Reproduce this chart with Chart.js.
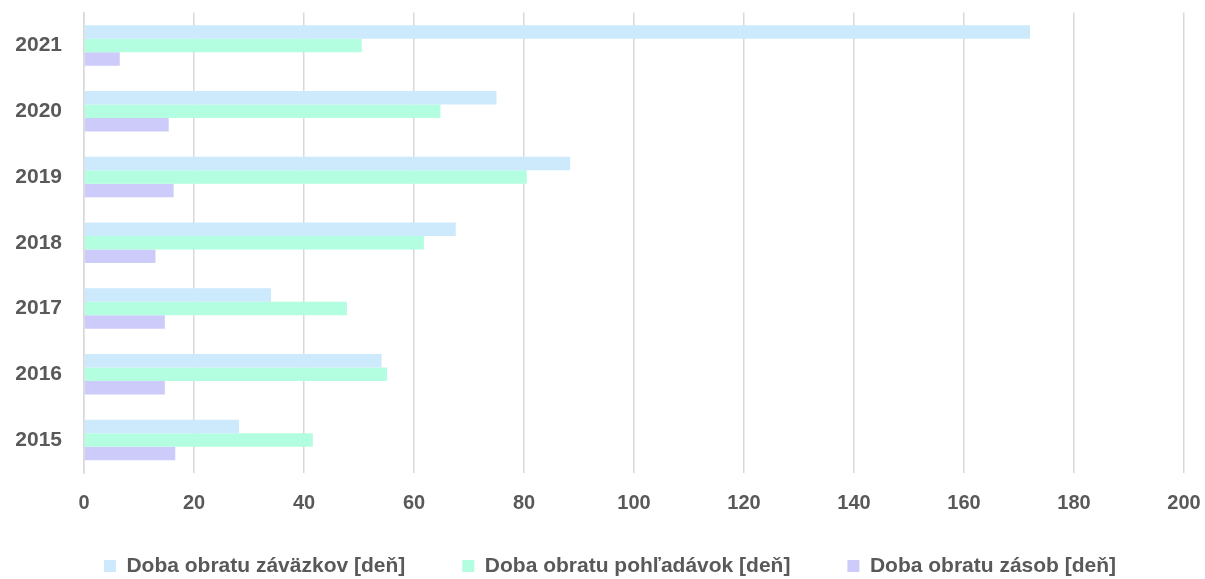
<!DOCTYPE html>
<html>
<head>
<meta charset="utf-8">
<script src="https://cdn.jsdelivr.net/npm/chart.js@4.4.1/dist/chart.umd.min.js"></script>
<style>
  html, body { margin: 0; padding: 0; background: #ffffff; }
  #wrap { width: 1205px; height: 579px; }
</style>
</head>
<body>
<div id="wrap"><canvas id="c" width="1205" height="579"></canvas></div>
<script>
const categories = ['2021', '2020', '2019', '2018', '2017', '2016', '2015'];
const seriesNames = ['Doba obratu záväzkov [deň]', 'Doba obratu pohľadávok [deň]', 'Doba obratu zásob [deň]'];
const zavazkov = [172.0, 75.0, 88.4, 67.6, 34.0, 54.1, 28.2];
const pohladavok = [50.5, 64.8, 80.5, 61.8, 47.8, 55.1, 41.6];
const zasob = [6.5, 15.4, 16.3, 13.0, 14.7, 14.7, 16.6];
const xTicks = [0, 20, 40, 60, 80, 100, 120, 140, 160, 180, 200];

const colors = ['#cdeafd', '#b3fde0', '#cccbfa'];
const textColor = '#595959';
const fontFamily = '"Liberation Sans", Arial, sans-serif';

const LEGEND_PAD = 57;
const LEGEND_FONT = 21;
const LEGEND_CENTER_Y = 566;

// Moves the legend row to its place under the axis labels
const legendPlacer = {
  id: 'legendPlacer',
  afterLayout(chart) {
    const lg = chart.legend;
    if (!lg) return;
    const dx = 13;
    lg.left += dx; lg.right += dx;
    lg.top = LEGEND_CENTER_Y - LEGEND_FONT / 2 - LEGEND_PAD;
    lg.bottom = chart.height;
    lg.height = lg.bottom - lg.top;
  }
};

new Chart(document.getElementById('c'), {
  type: 'bar',
  data: {
    labels: categories,
    datasets: [
      { label: seriesNames[0], data: zavazkov, backgroundColor: colors[0], borderWidth: 0 },
      { label: seriesNames[1], data: pohladavok, backgroundColor: colors[1], borderWidth: 0 },
      { label: seriesNames[2], data: zasob, backgroundColor: colors[2], borderWidth: 0 }
    ]
  },
  plugins: [legendPlacer],
  options: {
    indexAxis: 'y',
    responsive: false,
    animation: false,
    devicePixelRatio: 1,
    datasets: { bar: { barPercentage: 1.0, categoryPercentage: 0.616 } },
    layout: { padding: { top: 12.6, right: 21, left: 10, bottom: 0 } },
    scales: {
      x: {
        min: 0, max: 200,
        afterBuildTicks: (s) => { s.ticks = xTicks.map(v => ({ value: v })); },
        afterFit: (s) => { s.height = 45; s.paddingLeft = 0; s.paddingRight = 0; },
        grid: { color: '#d9d9d9', lineWidth: 1.5, drawTicks: false },
        border: { display: false },
        ticks: { padding: 18, color: textColor, font: { family: fontFamily, size: 20, weight: 'bold' } }
      },
      y: {
        afterFit: (s) => { s.width = 74; s.paddingTop = 0; s.paddingBottom = 0; },
        grid: { display: false, drawTicks: false },
        border: { display: true, color: '#d9d9d9', width: 1.5 },
        ticks: { padding: 22, color: textColor, font: { family: fontFamily, size: 21, weight: 'bold' } }
      }
    },
    plugins: {
      tooltip: { enabled: false },
      legend: {
        position: 'bottom',
        maxHeight: 61,
        labels: {
          boxWidth: 12, boxHeight: 12, padding: LEGEND_PAD,
          color: textColor,
          font: { family: fontFamily, size: LEGEND_FONT, weight: 'bold' }
        }
      }
    }
  }
});
</script>
</body>
</html>
